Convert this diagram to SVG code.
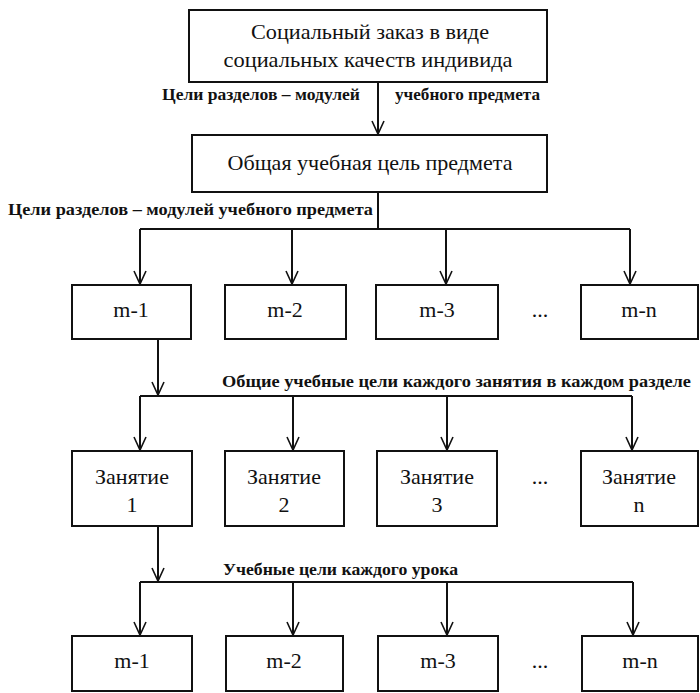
<svg xmlns="http://www.w3.org/2000/svg" width="700" height="693" viewBox="0 0 700 693">
<style>
.box{fill:#fff;stroke:#111;stroke-width:2}
.t{font-family:"Liberation Serif","Times New Roman",serif;font-size:22px;fill:#111;text-anchor:middle}
.lbl{font-family:"Liberation Serif","Times New Roman",serif;font-size:17px;font-weight:bold;fill:#111}
.c{fill:none;stroke:#111;stroke-width:2}
.a{marker-end:url(#v)}
</style>
<defs>
<marker id="v" markerUnits="userSpaceOnUse" orient="auto" refX="0" refY="0" markerWidth="20" markerHeight="20" overflow="visible">
<path d="M-13,-6 L0,0 L-13,6" fill="none" stroke="#111" stroke-width="1.6"/>
</marker>
</defs>
<rect width="700" height="693" fill="#fff"/>
<g id="connectors">
<line class="c a" x1="378" y1="82" x2="378" y2="134"/>
<polyline class="c" points="378,192 378,229"/>
<polyline class="c" points="140,229 630,229"/>
<line class="c a" x1="140" y1="229" x2="140" y2="284"/>
<line class="c a" x1="292" y1="229" x2="292" y2="284"/>
<line class="c a" x1="446" y1="229" x2="446" y2="284"/>
<line class="c a" x1="630" y1="229" x2="630" y2="284"/>
<line class="c a" x1="158" y1="339" x2="158" y2="395"/>
<polyline class="c" points="140,396 632,396"/>
<line class="c a" x1="140" y1="396" x2="140" y2="450"/>
<line class="c a" x1="293" y1="396" x2="293" y2="450"/>
<line class="c a" x1="447" y1="396" x2="447" y2="450"/>
<line class="c a" x1="632" y1="396" x2="632" y2="450"/>
<line class="c a" x1="158" y1="526" x2="158" y2="581"/>
<polyline class="c" points="140,582 633,582"/>
<line class="c a" x1="140" y1="582" x2="140" y2="635"/>
<line class="c a" x1="293" y1="582" x2="293" y2="635"/>
<line class="c a" x1="447" y1="582" x2="447" y2="635"/>
<line class="c a" x1="633" y1="582" x2="633" y2="635"/>
</g>
<g id="labels">
<text class="lbl" x="162" y="100" textLength="198" lengthAdjust="spacingAndGlyphs">Цели разделов – модулей</text>
<text class="lbl" x="395" y="100" textLength="145" lengthAdjust="spacingAndGlyphs">учебного предмета</text>
<text class="lbl" x="8" y="215" textLength="365" lengthAdjust="spacingAndGlyphs">Цели разделов – модулей учебного предмета</text>
<text class="lbl" x="222" y="387" textLength="469" lengthAdjust="spacingAndGlyphs">Общие учебные цели каждого занятия в каждом разделе</text>
<text class="lbl" x="223" y="575" textLength="235" lengthAdjust="spacingAndGlyphs">Учебные цели каждого урока</text>
</g>
<g id="n-social">
<rect class="box" x="189" y="10" width="358" height="72"/>
<text class="t" x="370" y="39" textLength="238" lengthAdjust="spacingAndGlyphs">Социальный заказ в виде</text>
<text class="t" x="368" y="67" textLength="289" lengthAdjust="spacingAndGlyphs">социальных качеств индивида</text>
</g>
<g id="n-goal">
<rect class="box" x="192" y="135" width="355" height="57"/>
<text class="t" x="370" y="170" textLength="285" lengthAdjust="spacingAndGlyphs">Общая учебная цель предмета</text>
</g>
<g id="n-m1a"><rect class="box" x="72" y="285" width="119" height="54"/><text class="t" x="131" y="317">m-1</text></g>
<g id="n-m2a"><rect class="box" x="225" y="285" width="121" height="54"/><text class="t" x="285" y="317">m-2</text></g>
<g id="n-m3a"><rect class="box" x="376" y="285" width="122" height="54"/><text class="t" x="437" y="317">m-3</text></g>
<g id="n-dotsa"><text class="t" x="540" y="317">...</text></g>
<g id="n-mna"><rect class="box" x="581" y="285" width="117" height="54"/><text class="t" x="639" y="317">m-n</text></g>
<g id="n-z1"><rect class="box" x="72" y="451" width="120" height="75"/><text class="t" x="132" y="484">Занятие</text><text class="t" x="132" y="512">1</text></g>
<g id="n-z2"><rect class="box" x="225" y="451" width="119" height="75"/><text class="t" x="284" y="484">Занятие</text><text class="t" x="284" y="512">2</text></g>
<g id="n-z3"><rect class="box" x="377" y="451" width="120" height="75"/><text class="t" x="437" y="484">Занятие</text><text class="t" x="437" y="512">3</text></g>
<g id="n-dotsb"><text class="t" x="540" y="484">...</text></g>
<g id="n-zn"><rect class="box" x="581" y="451" width="117" height="75"/><text class="t" x="639" y="484">Занятие</text><text class="t" x="639" y="512">n</text></g>
<g id="n-m1b"><rect class="box" x="72" y="636" width="120" height="55"/><text class="t" x="132" y="668">m-1</text></g>
<g id="n-m2b"><rect class="box" x="226" y="636" width="117" height="55"/><text class="t" x="284" y="668">m-2</text></g>
<g id="n-m3b"><rect class="box" x="378" y="636" width="120" height="55"/><text class="t" x="438" y="668">m-3</text></g>
<g id="n-dotsc"><text class="t" x="540" y="668">...</text></g>
<g id="n-mnb"><rect class="box" x="582" y="636" width="116" height="55"/><text class="t" x="640" y="668">m-n</text></g>
</svg>
